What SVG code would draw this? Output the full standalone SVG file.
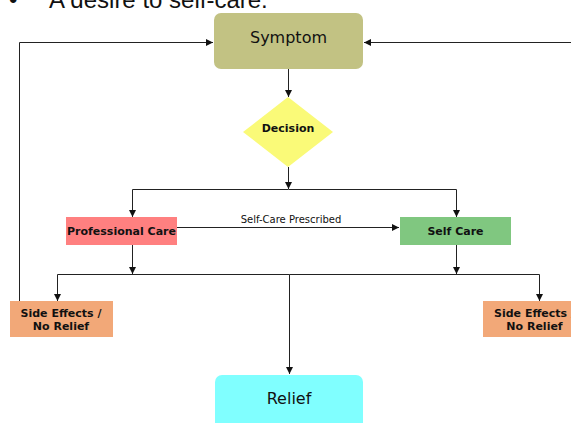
<svg xmlns="http://www.w3.org/2000/svg" width="571" height="423" viewBox="0 0 571 423">
<style>
.ln{fill:none;stroke:#222;stroke-width:1}
.big{font-family:"DejaVu Sans",sans-serif;font-size:16px;fill:#111;text-anchor:middle}
.bold{font-family:"DejaVu Sans",sans-serif;font-size:11px;font-weight:bold;fill:#111;text-anchor:middle}
.lbl{font-family:"DejaVu Sans",sans-serif;font-size:10px;fill:#111;text-anchor:middle}
.top{font-family:"Liberation Sans",Arial,sans-serif;font-size:24px;fill:#111}
</style>
<defs>
<marker id="ah" markerUnits="userSpaceOnUse" markerWidth="8" markerHeight="8" refX="7" refY="3.5" orient="auto">
<path d="M0,0 L7,3.5 L0,7 z" fill="#111"/>
</marker>
</defs>
<rect width="571" height="423" fill="#fff"/>
<text class="top" x="9" y="8">•</text>
<text class="top" x="49" y="8">A desire to self-care.</text>
<g id="connectors">
<path class="ln" d="M19.5,301 V42.5 H213" marker-end="url(#ah)"/>
<path class="ln" d="M571,42.5 H364" marker-end="url(#ah)"/>
<path class="ln" d="M288.5,69 V97" marker-end="url(#ah)"/>
<path class="ln" d="M288.5,167 V189" marker-end="url(#ah)"/>
<path class="ln" d="M288.5,189.5 H132.5 V217" marker-end="url(#ah)"/>
<path class="ln" d="M288.5,189.5 H456.5 V217" marker-end="url(#ah)"/>
<path class="ln" d="M177,227.5 H399" marker-end="url(#ah)"/>
<text class="lbl" x="291" y="223">Self-Care Prescribed</text>
<path class="ln" d="M132.5,245 V274" marker-end="url(#ah)"/>
<path class="ln" d="M456.5,245 V274" marker-end="url(#ah)"/>
<path class="ln" d="M289.5,274.5 H57.5 V301" marker-end="url(#ah)"/>
<path class="ln" d="M289.5,274.5 H539.5 V301" marker-end="url(#ah)"/>
<path class="ln" d="M289.5,274.5 V374" marker-end="url(#ah)"/>
</g>
<g id="symptom">
<rect x="214" y="13" width="149" height="56" rx="7" fill="#C2C283"/>
<text class="big" x="288.5" y="43">Symptom</text>
</g>
<g id="decision">
<polygon points="288,97 333,132 288,167 243,132" fill="#FAFA78"/>
<text class="bold" x="288" y="132">Decision</text>
</g>
<g id="professional">
<rect x="66" y="217" width="111" height="28" fill="#FF8080"/>
<text class="bold" x="121.5" y="235">Professional Care</text>
</g>
<g id="selfcare">
<rect x="400" y="217" width="111" height="28" fill="#80C780"/>
<text class="bold" x="455.5" y="235">Self Care</text>
</g>
<g id="sideeffects-left">
<rect x="10" y="301" width="103" height="36" fill="#F2A878"/>
<text class="bold" x="61" y="317">Side Effects /</text>
<text class="bold" x="61" y="330">No Relief</text>
</g>
<g id="sideeffects-right">
<rect x="483" y="301" width="103" height="36" fill="#F2A878"/>
<text class="bold" x="534.5" y="317">Side Effects /</text>
<text class="bold" x="534.5" y="330">No Relief</text>
</g>
<g id="relief">
<rect x="215" y="375" width="148" height="56" rx="7" fill="#80FFFF"/>
<text class="big" x="289" y="404">Relief</text>
</g>
</svg>
